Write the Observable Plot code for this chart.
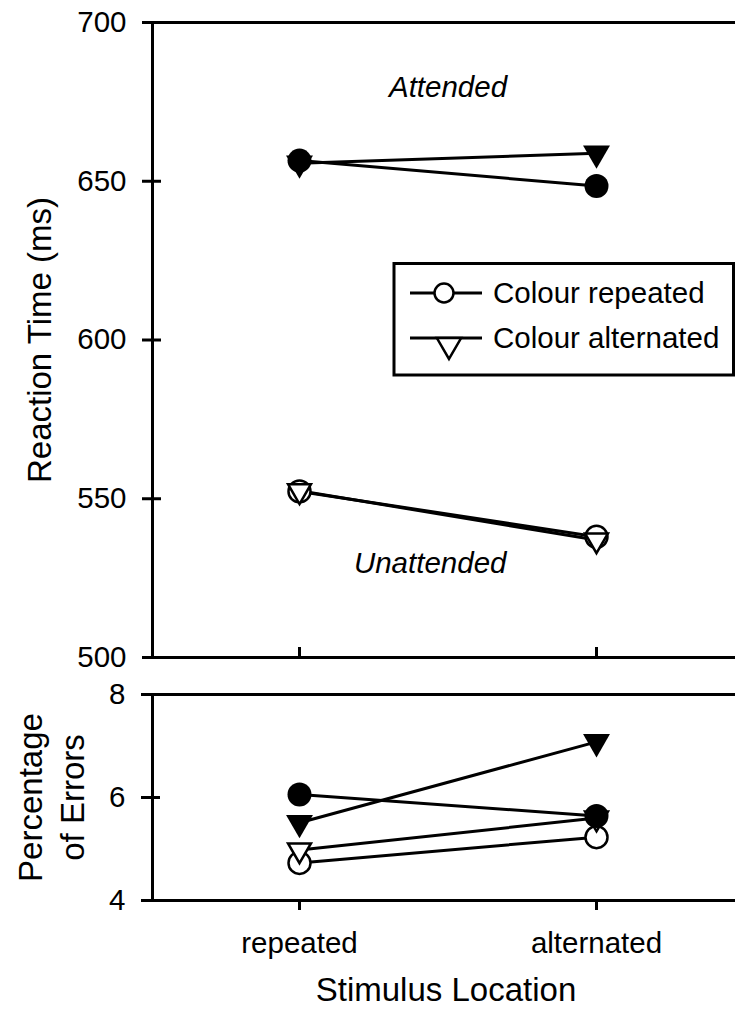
<!DOCTYPE html>
<html><head><meta charset="utf-8">
<script src="https://cdn.jsdelivr.net/npm/d3@7"></script>
<script src="https://cdn.jsdelivr.net/npm/@observablehq/plot@0.6"></script>
<style>
html,body{margin:0;padding:0;background:#fff;}
#chart svg{display:block;}
</style></head><body><div id="chart"></div>
<script>
// ---- data ----
const locations = ["repeated", "alternated"];
const legendLabels = ["Colour repeated", "Colour alternated"];
const rtAttendedColourRepeated = [656.5, 648.5];
const rtAttendedColourAlternated = [655.7, 658.8];
const rtUnattendedColourRepeated = [552.3, 538];
const rtUnattendedColourAlternated = [552.5, 537];
const errAttendedColourRepeated = [6.06, 5.64];
const errAttendedColourAlternated = [5.51, 7.08];
const errUnattendedColourRepeated = [4.73, 5.23];
const errUnattendedColourAlternated = [4.98, 5.6];
const rtTicks = [500, 550, 600, 650, 700];
const errTicks = [4, 6, 8];
const annotations = [{label: "Attended", x: 0.5, y: 679.5}, {label: "Unattended", x: 0.44, y: 529.6}];

const FONT = "'Liberation Sans', Arial, Helvetica, sans-serif";
const triangleDown = {
  draw(context, size) {
    const y = -Math.sqrt(size / (3 * Math.sqrt(3)));
    context.moveTo(0, -2 * y);
    context.lineTo(-Math.sqrt(3) * y, y);
    context.lineTo(Math.sqrt(3) * y, y);
    context.closePath();
  }
};

function rows(vals, attention, colour) {
  return vals.map((v, i) => ({i, value: v, attention, colour, key: attention + "-" + colour}));
}
const rtData = [
  ...rows(rtAttendedColourRepeated, "Attended", "repeated"),
  ...rows(rtAttendedColourAlternated, "Attended", "alternated"),
  ...rows(rtUnattendedColourRepeated, "Unattended", "repeated"),
  ...rows(rtUnattendedColourAlternated, "Unattended", "alternated")
];
const errData = [
  ...rows(errAttendedColourRepeated, "Attended", "repeated"),
  ...rows(errAttendedColourAlternated, "Attended", "alternated"),
  ...rows(errUnattendedColourRepeated, "Unattended", "repeated"),
  ...rows(errUnattendedColourAlternated, "Unattended", "alternated")
];

function seriesMarks(data) {
  const sel = (att, col) => d => d.attention === att && d.colour === col;
  return [
    Plot.line(data, {x: "i", y: "value", z: "key", stroke: "black", strokeWidth: 3}),
    Plot.dot(data, {filter: sel("Unattended", "repeated"), x: "i", y: "value", symbol: "circle", r: 11, fill: "white", stroke: "black", strokeWidth: 2.5}),
    Plot.dot(data, {filter: sel("Unattended", "alternated"), x: "i", y: "value", symbol: triangleDown, r: 8.5, fill: "white", stroke: "black", strokeWidth: 2.5}),
    Plot.dot(data, {filter: sel("Attended", "alternated"), x: "i", y: "value", symbol: triangleDown, r: 10, fill: "black", stroke: "none"}),
    Plot.dot(data, {filter: sel("Attended", "repeated"), x: "i", y: "value", symbol: "circle", r: 12, fill: "black", stroke: "none"})
  ];
}

const style = {fontFamily: FONT, fontSize: "29.5px", background: "white", color: "black", overflow: "visible"};

const topPlot = Plot.plot({
  width: 735, height: 680,
  marginTop: 22, marginBottom: 23, marginLeft: 152, marginRight: 0,
  style,
  x: {type: "linear", domain: [0, 1], range: [299, 596], axis: null},
  y: {domain: [500, 700]},
  marks: [
    Plot.ruleY([500, 700], {stroke: "black", strokeWidth: 3}),
    Plot.frame({anchor: "left", stroke: "black", strokeWidth: 3}),
    Plot.tickY(rtTicks, {y: d => d, stroke: "black", strokeWidth: 3, insetLeft: -10, insetRight: 574}),
    Plot.tickX([0, 1], {x: d => d, stroke: "black", strokeWidth: 3, insetTop: 625}),
    Plot.axisY({ticks: rtTicks, tickFormat: d => String(d), tickSize: 0, tickPadding: 26, label: null}),
    Plot.text(["Reaction Time (ms)"], {frameAnchor: "left", textAnchor: "middle", lineAnchor: "middle", rotate: -90, dx: -112, fontSize: 33}),
    Plot.text(annotations, {x: "x", y: "y", text: "label", fontStyle: "italic", fontSize: 29.5}),
    ...seriesMarks(rtData)
  ]
});

// legend
const lg = d3.select(topPlot).append("g").attr("font-family", FONT).attr("font-size", 29.5).attr("text-anchor", "start");
lg.append("rect").attr("x", 394).attr("y", 263.5).attr("width", 339.5).attr("height", 111.5)
  .attr("fill", "white").attr("stroke", "black").attr("stroke-width", 3);
const rowY = [293, 338];
rowY.forEach((y, k) => {
  lg.append("line").attr("x1", 410).attr("x2", 482).attr("y1", y).attr("y2", y).attr("stroke", "black").attr("stroke-width", 3);
  if (k === 0) {
    lg.append("circle").attr("cx", 444).attr("cy", y).attr("r", 9.5).attr("fill", "white").attr("stroke", "black").attr("stroke-width", 2.5);
  } else {
    const p = d3.path();
    triangleDown.draw(p, Math.PI * 9 * 9);
    lg.append("path").attr("d", p.toString()).attr("transform", `translate(449,${y + 7})`)
      .attr("fill", "white").attr("stroke", "black").attr("stroke-width", 2.5);
  }
  lg.append("text").attr("x", 493).attr("y", y).attr("dy", "0.34em").attr("fill", "black").text(legendLabels[k]);
});

const bottomPlot = Plot.plot({
  width: 735, height: 339,
  marginTop: 14, marginBottom: 119, marginLeft: 152, marginRight: 0,
  style,
  x: {type: "linear", domain: [0, 1], range: [299, 596]},
  y: {domain: [4, 8]},
  marks: [
    Plot.ruleY([4, 8], {stroke: "black", strokeWidth: 3}),
    Plot.frame({anchor: "left", stroke: "black", strokeWidth: 3}),
    Plot.tickY(errTicks, {y: d => d, stroke: "black", strokeWidth: 3, insetLeft: -11, insetRight: 575}),
    Plot.tickX([0, 1], {x: d => d, stroke: "black", strokeWidth: 3, insetTop: 206, insetBottom: -10}),
    Plot.axisY({ticks: errTicks, tickFormat: d => String(d), tickSize: 0, tickPadding: 27, label: null}),
    Plot.axisX({ticks: [0, 1], tickFormat: i => locations[i], tickSize: 0, tickPadding: 32, label: null}),
    Plot.text(["Percentage\nof Errors"], {frameAnchor: "left", textAnchor: "middle", lineAnchor: "middle", rotate: -90, dx: -103, fontSize: 33, lineHeight: 1.27}),
    Plot.text(["Stimulus Location"], {frameAnchor: "bottom", textAnchor: "middle", lineAnchor: "middle", dx: 2, dy: 90, fontSize: 33}),
    ...seriesMarks(errData)
  ]
});

document.getElementById("chart").append(topPlot, bottomPlot);
</script>
</body></html>
